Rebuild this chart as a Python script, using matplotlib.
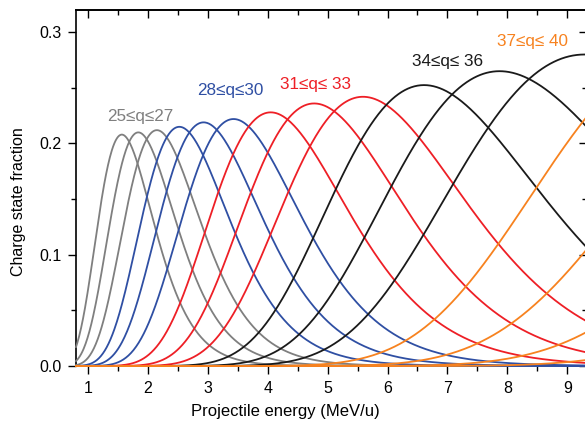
import numpy as np
import matplotlib.pyplot as plt
from matplotlib.ticker import MultipleLocator, FormatStrFormatter

# charge states and the peak of each fraction curve
charge_states = [25, 26, 27, 28, 29, 30, 31, 32, 33, 34, 35, 36, 37, 38, 39, 40]
peak_energy = [1.565, 1.84, 2.15, 2.525, 2.93, 3.43, 4.05, 4.775, 5.59,
               6.61, 7.87, 9.29, 11.2, 13.4, 15.8, 18.5]          # MeV/u
peak_fraction = [0.208, 0.210, 0.212, 0.215, 0.219, 0.222, 0.228, 0.236, 0.242,
                 0.2525, 0.265, 0.280, 0.29, 0.30, 0.31, 0.32]
width_ln_energy = [0.30, 0.30, 0.295, 0.29, 0.29, 0.285, 0.28, 0.275, 0.27,
                   0.262, 0.262, 0.26, 0.255, 0.25, 0.245, 0.24]

group_names = ['25≤q≤27', '28≤q≤30', '31≤q≤ 33', '34≤q≤ 36', '37≤q≤ 40']
group_first_q = [25, 28, 31, 34, 37]
group_colors = ['#7f7f7f', '#2f4fa3', '#ee1f26', '#1a1a1a', '#f7821f']
label_energy = [1.87, 3.38, 4.80, 7.01, 8.42]
label_fraction = [0.2243, 0.2477, 0.253, 0.274, 0.292]

E_MIN, E_MAX = 0.8, 9.33

plt.rcParams['font.family'] = ['Liberation Sans', 'DejaVu Sans']


def group_color(q):
    idx = 0
    for i, q0 in enumerate(group_first_q):
        if q >= q0:
            idx = i
    return group_colors[idx]


def fraction_curve(E, E0, h, s):
    """Charge-state fraction: gaussian in ln(E) around the peak."""
    return h * np.exp(-0.5 * (np.log(E / E0) / s) ** 2)


def set_x_ticks(axis):
    axis.set_major_locator(MultipleLocator(1))
    axis.set_minor_locator(MultipleLocator(0.5))


def set_y_ticks(axis):
    axis.set_major_locator(MultipleLocator(0.1))
    axis.set_minor_locator(MultipleLocator(0.05))


fig = plt.figure(figsize=(5.85, 4.22), dpi=100)
ax = fig.add_axes([76 / 585, 56 / 422, 511 / 585, 356 / 422])

E = np.linspace(E_MIN, E_MAX, 800)
for q, E0, h, s in zip(charge_states, peak_energy, peak_fraction, width_ln_energy):
    ax.plot(E, fraction_curve(E, E0, h, s), color=group_color(q), lw=1.3,
            zorder=3, clip_on=False)

for name, x, y, c in zip(group_names, label_energy, label_fraction, group_colors):
    ax.text(x, y, name, color=c, fontsize=12.3, ha='center', va='center')

ax.set_xlim(E_MIN, E_MAX)
ax.set_ylim(0, 0.32)
set_x_ticks(ax.xaxis)
set_y_ticks(ax.yaxis)
ax.yaxis.set_major_formatter(FormatStrFormatter('%.1f'))

# bottom/left ticks point out
ax.tick_params(which='both', direction='out', width=1.0, labelsize=11.5)
ax.tick_params(which='major', length=5.5, pad=5)
ax.tick_params(which='minor', length=3.5)
for sp in ax.spines.values():
    sp.set_linewidth(1.2)
ax.spines['right'].set_visible(False)

# top/right ticks point in
top = ax.secondary_xaxis('top')
set_x_ticks(top.xaxis)
right = ax.secondary_yaxis('right')
set_y_ticks(right.yaxis)
for sec in (top, right):
    sec.tick_params(which='both', direction='in', width=1.0,
                    labeltop=False, labelright=False)
    sec.tick_params(which='major', length=5.5)
    sec.tick_params(which='minor', length=3.5)
    for sp in sec.spines.values():
        sp.set_linewidth(1.2)
right.spines['right'].set_visible(False)

ax.set_xlabel('Projectile energy (MeV/u)', fontsize=12)
ax.set_ylabel('Charge state fraction', fontsize=11.5)
ax.xaxis.set_label_coords(0.41, -0.108)
ax.yaxis.set_label_coords(-0.097, 0.462)

fig.savefig('out.png', dpi=100)
